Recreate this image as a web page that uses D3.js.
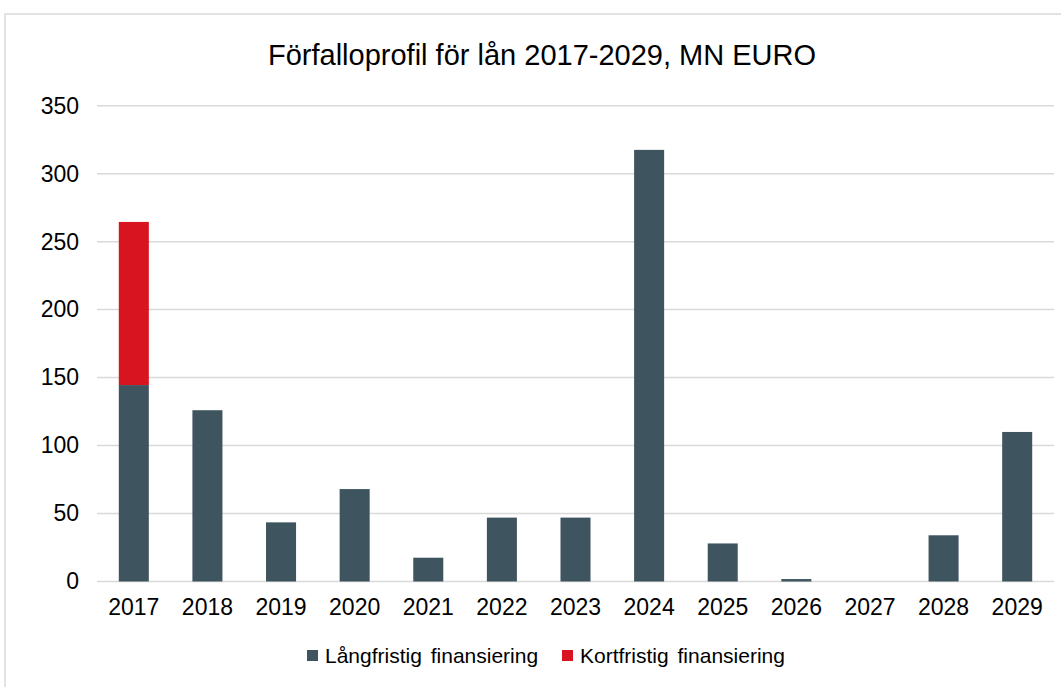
<!DOCTYPE html>
<html>
<head>
<meta charset="utf-8">
<script src="https://d3js.org/d3.v7.min.js"></script>
<style>
  body { margin: 0; background: #fff; }
  svg { display: block; font-family: Arial, "Liberation Sans", sans-serif; }
</style>
</head>
<body>
<div id="chart"></div>
<script>
// data
const years = ["2017", "2018", "2019", "2020", "2021", "2022", "2023", "2024", "2025", "2026", "2027", "2028", "2029"];
const longTerm = [144.5, 126, 43.5, 68, 17.5, 47, 47, 317.5, 28, 1.8, 0, 34, 110];
const shortTerm = [120, 0, 0, 0, 0, 0, 0, 0, 0, 0, 0, 0, 0];
const yTicks = [0, 50, 100, 150, 200, 250, 300, 350];
const seriesNames = ["Långfristig finansiering", "Kortfristig finansiering"];
const colors = ["#3e5560", "#d7141f"];

const width = 1061, height = 687;
const svg = d3.select("#chart").append("svg")
  .attr("width", width)
  .attr("height", height);

// outer frame (continues past the right/bottom edge)
svg.append("rect")
  .attr("x", 5).attr("y", 14)
  .attr("width", 1100).attr("height", 700)
  .attr("fill", "none")
  .attr("stroke", "#d9d9d9")
  .attr("stroke-width", 1.5);

svg.append("text")
  .attr("x", 542).attr("y", 65)
  .attr("text-anchor", "middle")
  .attr("font-size", 29)
  .attr("fill", "#000")
  .text("Förfalloprofil för lån 2017-2029, MN EURO");

const x = d3.scaleBand().domain(years).range([97, 1054]).paddingInner(0.592).paddingOuter(0.296);
const y = d3.scaleLinear().domain([0, 350]).range([581.5, 105.7]);

// gridlines
svg.append("g")
  .selectAll("line")
  .data(yTicks)
  .join("line")
  .attr("x1", 97).attr("x2", 1054)
  .attr("y1", d => y(d)).attr("y2", d => y(d))
  .attr("stroke", "#d9d9d9")
  .attr("stroke-width", 1.5);

// y axis labels
const yAxis = svg.append("g")
  .attr("transform", "translate(79,0)")
  .call(d3.axisLeft(y).tickValues(yTicks).tickSize(0).tickPadding(0));
yAxis.select(".domain").remove();
yAxis.selectAll("text")
  .attr("font-size", 23)
  .attr("font-family", "Arial, 'Liberation Sans', sans-serif")
  .attr("fill", "#000");

// stacked bars
const rows = years.map((yr, i) => ({ year: yr, long: longTerm[i], short: shortTerm[i] }));
const stacked = d3.stack().keys(["long", "short"])(rows);

svg.append("g")
  .selectAll("g")
  .data(stacked)
  .join("g")
  .attr("fill", (d, i) => colors[i])
  .selectAll("rect")
  .data(d => d.filter(s => s[1] - s[0] > 0))
  .join("rect")
  .attr("x", d => x(d.data.year))
  .attr("width", x.bandwidth())
  .attr("y", d => y(d[1]))
  .attr("height", d => y(d[0]) - y(d[1]));

// x axis labels
const xAxis = svg.append("g")
  .attr("transform", "translate(0,599)")
  .call(d3.axisBottom(x).tickSize(0).tickPadding(0));
xAxis.select(".domain").remove();
xAxis.selectAll("text")
  .attr("font-size", 23)
  .attr("font-family", "Arial, 'Liberation Sans', sans-serif")
  .attr("fill", "#000");

// legend
const legendX = [307, 562];
const legend = svg.append("g")
  .selectAll("g")
  .data(seriesNames)
  .join("g")
  .attr("transform", (d, i) => `translate(${legendX[i]},0)`);
legend.append("rect")
  .attr("x", 0).attr("y", 650)
  .attr("width", 11).attr("height", 11)
  .attr("fill", (d, i) => colors[i]);
legend.append("text")
  .attr("x", 18).attr("y", 663)
  .attr("font-size", 21)
  .attr("word-spacing", 3)
  .attr("fill", "#000")
  .text(d => d);
</script>
</body>
</html>
